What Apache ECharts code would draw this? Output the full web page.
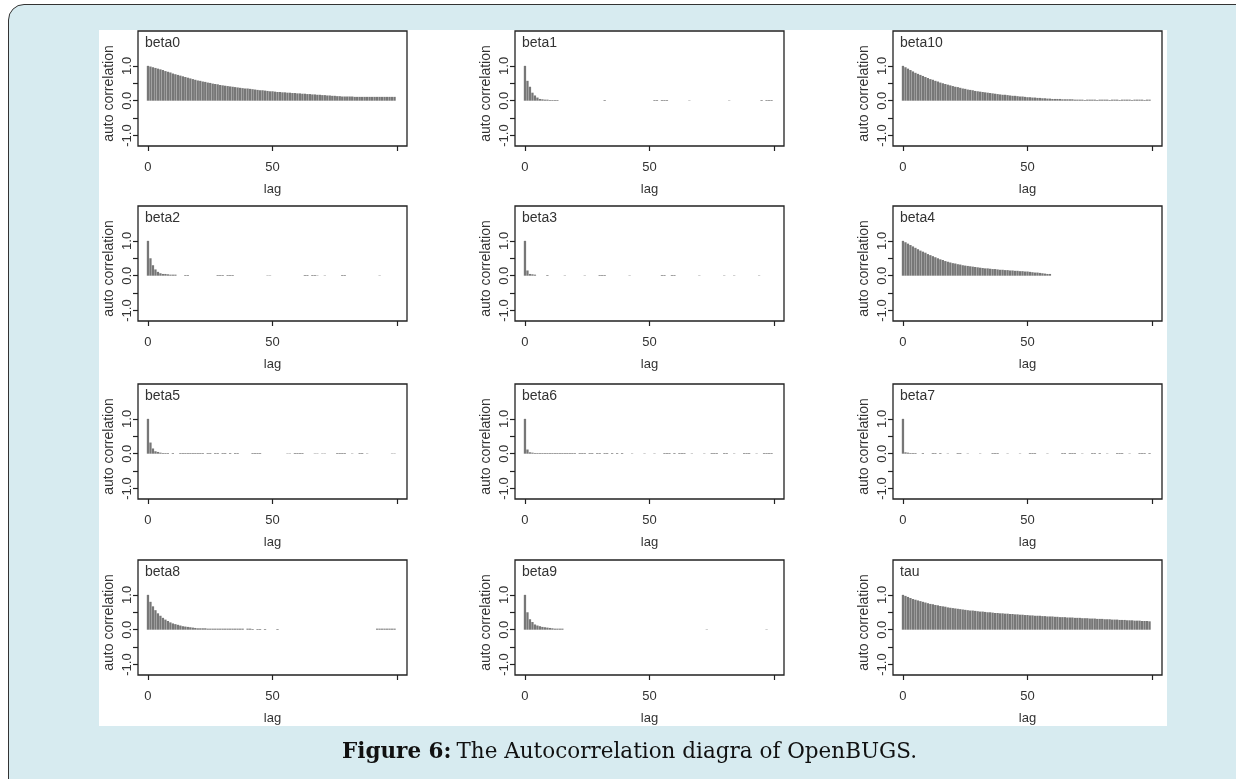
<!DOCTYPE html>
<html>
<head>
<meta charset="utf-8">
<script src="https://cdn.jsdelivr.net/npm/echarts@6/dist/echarts.min.js"></script>
<style>
html, body { margin: 0; padding: 0; width: 1236px; height: 779px; overflow: hidden; background: #fff; }
#frame { position: absolute; left: 8px; top: 4px; width: 1260px; height: 820px; background: #d7ebf0; border: 1.5px solid #333; border-radius: 16px; }
#paper { position: absolute; left: 99px; top: 30px; width: 1068px; height: 696px; background: #fff; }
#chart { position: absolute; left: 0; top: 0; width: 1236px; height: 779px; }
</style>
</head>
<body>
<div id="frame"></div>
<div id="paper"></div>
<div id="chart"></div>
<script>
// panel order, row by row
const panelNames = ['beta0', 'beta1', 'beta10', 'beta2', 'beta3', 'beta4', 'beta5', 'beta6', 'beta7', 'beta8', 'beta9', 'tau'];

const yTicks = [-1, -0.5, 0, 0.5, 1];
const yLabels = [-1, 0, 1];
const xTicks = [0, 50, 100];
const xLabels = [0, 50];

// dense autocorrelations, index = lag
const beta0Acf = [
  1.00, 0.98, 0.96, 0.94, 0.92, 0.90, 0.88, 0.85, 0.83, 0.81,
  0.78, 0.76, 0.74, 0.72, 0.70, 0.68, 0.66, 0.64, 0.62, 0.60,
  0.58, 0.57, 0.55, 0.54, 0.52, 0.51, 0.49, 0.48, 0.47, 0.45,
  0.44, 0.43, 0.42, 0.41, 0.40, 0.39, 0.38, 0.37, 0.36, 0.35,
  0.35, 0.34, 0.33, 0.32, 0.31, 0.30, 0.30, 0.29, 0.28, 0.27,
  0.27, 0.26, 0.25, 0.25, 0.24, 0.24, 0.23, 0.23, 0.22, 0.22,
  0.21, 0.21, 0.20, 0.20, 0.19, 0.19, 0.18, 0.18, 0.17, 0.17,
  0.16, 0.16, 0.15, 0.15, 0.14, 0.14, 0.13, 0.13, 0.12, 0.12,
  0.12, 0.12, 0.12, 0.11, 0.11, 0.11, 0.11, 0.11, 0.11, 0.11,
  0.11, 0.11, 0.11, 0.11, 0.11, 0.11, 0.11, 0.11, 0.11, 0.11
];
const beta10Acf = [
  1.00, 0.96, 0.92, 0.88, 0.84, 0.80, 0.77, 0.74, 0.71, 0.68,
  0.65, 0.62, 0.60, 0.57, 0.55, 0.52, 0.50, 0.48, 0.46, 0.44,
  0.42, 0.40, 0.39, 0.37, 0.35, 0.34, 0.32, 0.31, 0.30, 0.28,
  0.27, 0.26, 0.25, 0.24, 0.23, 0.22, 0.21, 0.20, 0.19, 0.18,
  0.17, 0.17, 0.16, 0.15, 0.14, 0.14, 0.13, 0.12, 0.12, 0.11,
  0.10, 0.10, 0.09, 0.09, 0.08, 0.08, 0.07, 0.07, 0.06, 0.06,
  0.05, 0.05, 0.05, 0.05, 0.04, 0.04, 0.04, 0.04, 0.04, 0.03,
  0.03, 0.03, 0.03, 0.02, 0.03, 0.03, 0.03, 0.03, 0.02, 0.03,
  0.03, 0.03, 0.03, 0.02, 0.03, 0.03, 0.03, 0.02, 0.03, 0.03,
  0.03, 0.03, 0.02, 0.03, 0.03, 0.03, 0.03, 0.02, 0.03, 0.03
];
const beta4Acf = [
  1.00, 0.96, 0.92, 0.88, 0.84, 0.80, 0.76, 0.72, 0.69, 0.66,
  0.62, 0.59, 0.56, 0.53, 0.50, 0.47, 0.45, 0.42, 0.40, 0.38,
  0.36, 0.35, 0.33, 0.32, 0.30, 0.29, 0.28, 0.27, 0.26, 0.25,
  0.24, 0.23, 0.22, 0.21, 0.21, 0.20, 0.19, 0.19, 0.18, 0.17,
  0.17, 0.16, 0.16, 0.15, 0.15, 0.14, 0.14, 0.13, 0.13, 0.12,
  0.12, 0.11, 0.10, 0.09, 0.09, 0.08, 0.07, 0.06, 0.05, 0.05
];
const beta8Acf = [
  1.00, 0.80, 0.67, 0.56, 0.47, 0.40, 0.34, 0.29, 0.25, 0.21,
  0.18, 0.16, 0.14, 0.12, 0.10, 0.09, 0.08, 0.07, 0.06, 0.05,
  0.04, 0.04, 0.04, 0.04, 0.03, 0.03, 0.03, 0.03, 0.03, 0.03,
  0.03, 0.03, 0.03, 0.03, 0.03, 0.03, 0.03, 0.03, 0.03, null,
  0.03, 0.03, 0.02, null, 0.02, 0.02, null, 0.02, null, null,
  null, null, 0.02, null, null, null, null, null, null, null,
  null, null, null, null, null, null, null, null, null, null,
  null, null, null, null, null, null, null, null, null, null,
  null, null, null, null, null, null, null, null, null, null,
  null, null, 0.03, 0.03, 0.03, 0.03, 0.03, 0.03, 0.03, 0.03
];
const tauAcf = [
  1.00, 0.97, 0.94, 0.91, 0.88, 0.86, 0.84, 0.82, 0.80, 0.78,
  0.76, 0.74, 0.73, 0.71, 0.70, 0.68, 0.67, 0.66, 0.64, 0.63,
  0.62, 0.61, 0.60, 0.59, 0.58, 0.57, 0.56, 0.55, 0.55, 0.54,
  0.53, 0.52, 0.52, 0.51, 0.50, 0.50, 0.49, 0.48, 0.48, 0.47,
  0.47, 0.46, 0.46, 0.45, 0.45, 0.44, 0.44, 0.43, 0.43, 0.42,
  0.42, 0.41, 0.41, 0.40, 0.40, 0.40, 0.39, 0.39, 0.38, 0.38,
  0.38, 0.37, 0.37, 0.36, 0.36, 0.36, 0.35, 0.35, 0.35, 0.34,
  0.34, 0.34, 0.33, 0.33, 0.33, 0.32, 0.32, 0.32, 0.31, 0.31,
  0.31, 0.30, 0.30, 0.30, 0.29, 0.29, 0.29, 0.28, 0.28, 0.28,
  0.27, 0.27, 0.27, 0.26, 0.26, 0.26, 0.25, 0.25, 0.25, 0.24
];

// sparse autocorrelations as [lag, value]
const beta1Acf = [[0, 1.0], [1, 0.57], [2, 0.40], [3, 0.23], [4, 0.15], [5, 0.09], [6, 0.05], [7, 0.04], [8, 0.03], [9, 0.03],
  [10, 0.02], [11, 0.02], [12, 0.02], [13, 0.02], [32, 0.02], [52, 0.02], [53, 0.02], [55, 0.02], [56, 0.02], [57, 0.02],
  [66, 0.01], [82, 0.01], [95, 0.02], [97, 0.02], [98, 0.02], [99, 0.02]];
const beta2Acf = [[0, 1.0], [1, 0.50], [2, 0.30], [3, 0.18], [4, 0.11], [5, 0.07], [6, 0.05], [7, 0.05], [8, 0.04], [9, 0.03],
  [10, 0.03], [11, 0.03], [15, 0.02], [16, 0.02], [28, 0.02], [29, 0.02], [30, 0.02], [32, 0.02], [33, 0.02], [34, 0.02],
  [48, 0.01], [49, 0.01], [63, 0.02], [64, 0.02], [66, 0.02], [67, 0.02], [68, 0.01], [71, 0.01], [78, 0.02], [79, 0.02], [93, 0.01]];
const beta3Acf = [[0, 1.0], [1, 0.15], [2, 0.05], [3, 0.04], [4, 0.03], [9, 0.02], [16, 0.01], [24, 0.01], [30, 0.02], [31, 0.02],
  [32, 0.02], [42, 0.01], [55, 0.02], [56, 0.02], [59, 0.02], [60, 0.02], [70, 0.01], [80, 0.01], [84, 0.01], [94, 0.01]];
const beta5Acf = [[0, 1.0], [1, 0.32], [2, 0.15], [3, 0.07], [4, 0.05], [5, 0.03], [6, 0.02], [7, 0.02], [8, 0.02], [10, 0.02],
  [13, 0.02], [14, 0.02], [15, 0.02], [16, 0.02], [17, 0.02], [18, 0.02], [19, 0.02], [20, 0.02], [21, 0.02], [22, 0.02],
  [24, 0.02], [25, 0.02], [27, 0.02], [28, 0.02], [30, 0.02], [31, 0.02], [33, 0.02], [35, 0.02], [36, 0.02],
  [42, 0.02], [43, 0.02], [44, 0.02], [45, 0.02], [56, 0.01], [57, 0.01], [59, 0.02], [60, 0.02], [61, 0.02], [62, 0.02],
  [67, 0.01], [68, 0.01], [70, 0.01], [71, 0.01], [76, 0.02], [77, 0.02], [78, 0.02], [79, 0.02], [82, 0.01],
  [85, 0.02], [86, 0.02], [88, 0.01], [98, 0.01], [99, 0.01]];
const beta6Acf = [[0, 1.0], [1, 0.12], [2, 0.04], [3, 0.03], [4, 0.02], [5, 0.02], [6, 0.02], [7, 0.02], [8, 0.02], [9, 0.02],
  [10, 0.02], [11, 0.02], [12, 0.02], [13, 0.02], [14, 0.02], [15, 0.02], [16, 0.02], [17, 0.02], [18, 0.02], [19, 0.02],
  [20, 0.02], [22, 0.02], [23, 0.02], [24, 0.02], [26, 0.02], [27, 0.02], [29, 0.02], [30, 0.02], [32, 0.02], [33, 0.02],
  [35, 0.02], [37, 0.02], [39, 0.02], [43, 0.01], [48, 0.01], [52, 0.01], [56, 0.02], [57, 0.02], [58, 0.02], [60, 0.02],
  [62, 0.02], [63, 0.02], [64, 0.02], [67, 0.01], [72, 0.01], [75, 0.02], [76, 0.02], [77, 0.02], [80, 0.02], [81, 0.02],
  [84, 0.01], [88, 0.02], [89, 0.02], [90, 0.02], [93, 0.01], [96, 0.02], [97, 0.02], [98, 0.02], [99, 0.02]];
const beta7Acf = [[0, 1.0], [1, 0.04], [2, 0.03], [3, 0.02], [4, 0.02], [5, 0.02], [8, 0.02], [12, 0.02], [13, 0.02], [15, 0.02],
  [18, 0.01], [22, 0.02], [23, 0.02], [26, 0.01], [31, 0.01], [36, 0.02], [37, 0.02], [38, 0.02], [42, 0.01], [47, 0.01],
  [51, 0.02], [52, 0.02], [53, 0.02], [58, 0.01], [64, 0.02], [65, 0.02], [67, 0.02], [68, 0.02], [69, 0.02], [72, 0.01],
  [76, 0.02], [77, 0.02], [79, 0.02], [82, 0.01], [86, 0.02], [87, 0.02], [88, 0.02], [91, 0.01], [95, 0.02], [96, 0.02],
  [97, 0.02], [99, 0.02]];
const beta9Acf = [[0, 1.0], [1, 0.50], [2, 0.30], [3, 0.22], [4, 0.15], [5, 0.12], [6, 0.10], [7, 0.08], [8, 0.07], [9, 0.06],
  [10, 0.05], [11, 0.04], [12, 0.03], [13, 0.03], [14, 0.03], [15, 0.03], [73, 0.01], [97, 0.01]];

// panel position: column lefts and row tops, px
const colLeft = [138, 515, 893];
const rowTop = [31, 206, 384, 560];
const panelW = 269;
const panelH = 115;

function toPairs(arr) {
  return arr.map((v, i) => (v == null ? null : [i, v])).filter(p => p !== null);
}

const acfByPanel = {
  beta0: toPairs(beta0Acf),
  beta1: beta1Acf,
  beta10: toPairs(beta10Acf),
  beta2: beta2Acf,
  beta3: beta3Acf,
  beta4: toPairs(beta4Acf),
  beta5: beta5Acf,
  beta6: beta6Acf,
  beta7: beta7Acf,
  beta8: toPairs(beta8Acf),
  beta9: beta9Acf,
  tau: toPairs(tauAcf)
};

const textColor = '#333';
const font = 'Liberation Sans, Arial, sans-serif';

const grid = [], xAxis = [], yAxis = [], series = [], title = [];
panelNames.forEach((name, i) => {
  const left = colLeft[i % 3];
  const top = rowTop[Math.floor(i / 3)];
  grid.push({
    left: left, top: top, width: panelW, height: panelH,
    show: true, borderColor: '#222', borderWidth: 1.3, backgroundColor: 'transparent'
  });
  xAxis.push({
    type: 'value', gridIndex: i, min: -4, max: 104,
    name: 'lag', nameLocation: 'middle', nameGap: 37,
    nameTextStyle: { color: textColor, fontSize: 13, fontFamily: font },
    axisLine: { show: false, onZero: false },
    axisTick: { show: true, length: 5, customValues: xTicks, lineStyle: { color: '#222', width: 1.2 } },
    axisLabel: { show: true, margin: 15, customValues: xLabels, color: textColor, fontSize: 13, fontFamily: font },
    splitLine: { show: false }
  });
  yAxis.push({
    type: 'value', gridIndex: i, min: -1.3, max: 2.0,
    name: 'auto correlation', nameLocation: 'middle', nameGap: 22, nameRotate: 90,
    nameTextStyle: { color: textColor, fontSize: 14, fontFamily: font, padding: [0, 10, 0, 0] },
    axisLine: { show: false, onZero: false },
    axisTick: { show: true, length: 5, customValues: yTicks, lineStyle: { color: '#222', width: 1.2 } },
    axisLabel: {
      show: true, margin: 4, rotate: 90, customValues: yLabels,
      formatter: v => v.toFixed(1), color: textColor, fontSize: 13, fontFamily: font
    },
    splitLine: { show: false }
  });
  series.push({
    type: 'bar', name: name, xAxisIndex: i, yAxisIndex: i,
    barWidth: 2.3, itemStyle: { color: '#777' }, silent: true,
    data: acfByPanel[name]
  });
  title.push({
    text: name, left: left + 2, top: top,
    textStyle: { color: textColor, fontSize: 14, fontWeight: 'normal', fontFamily: font }
  });
});

title.push({
  text: '{b|Figure 6:} {r|The Autocorrelation diagra of OpenBUGS.}',
  left: 337, top: 736,
  textStyle: {
    fontWeight: 'normal',
    rich: {
      b: { fontFamily: 'DejaVu Serif', fontWeight: 'bold', fontSize: 21.5, color: '#111' },
      r: { fontFamily: 'DejaVu Serif', fontWeight: 'normal', fontSize: 21.5, color: '#111' }
    }
  }
});

const chart = echarts.init(document.getElementById('chart'), null, { renderer: 'canvas' });
chart.setOption({
  animation: false,
  title: title,
  grid: grid,
  xAxis: xAxis,
  yAxis: yAxis,
  series: series
});
</script>
</body>
</html>
